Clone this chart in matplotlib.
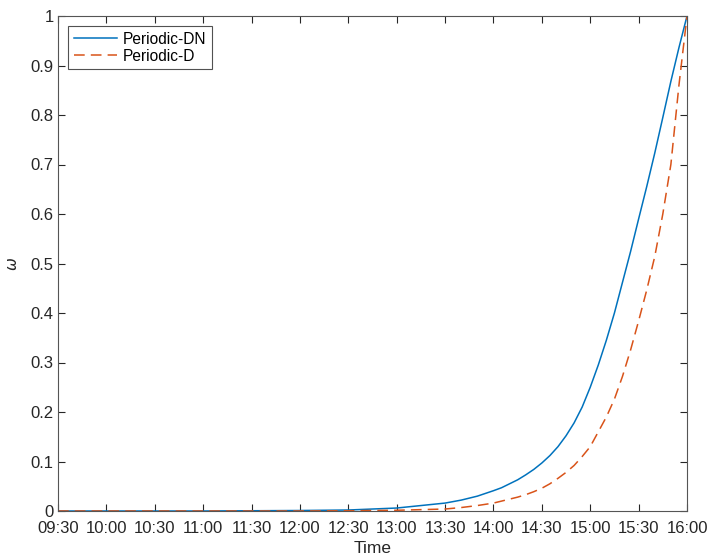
import matplotlib
matplotlib.use("Agg")
import matplotlib.pyplot as plt
import pandas as pd

plt.rcParams['font.family'] = ['Liberation Sans', 'DejaVu Sans']

times = ["09:30", "10:00", "10:30", "11:00", "11:30", "12:00", "12:30", "13:00",
         "13:30", "13:40", "13:50",
         "14:00", "14:05", "14:10", "14:15", "14:20", "14:25", "14:30", "14:35",
         "14:40", "14:45", "14:50", "14:55",
         "15:00", "15:05", "15:10", "15:15", "15:20", "15:25", "15:30", "15:35",
         "15:40", "15:45", "15:50", "15:55", "16:00"]
periodic_dn = [0.0, 0.0, 0.0, 0.0, 0.0005, 0.001, 0.002, 0.006,
               0.016, 0.022, 0.030,
               0.041, 0.047, 0.055, 0.063, 0.073, 0.084, 0.097, 0.112,
               0.130, 0.152, 0.178, 0.210,
               0.250, 0.295, 0.345, 0.400, 0.462, 0.524, 0.590, 0.655,
               0.723, 0.795, 0.868, 0.936, 1.0]
periodic_d = [0.0, 0.0, 0.0, 0.0, 0.0, 0.0, 0.0005, 0.0015,
              0.004, 0.007, 0.011,
              0.016, 0.020, 0.024, 0.028, 0.033, 0.039, 0.046, 0.055,
              0.066, 0.078, 0.092, 0.110,
              0.130, 0.160, 0.190, 0.226, 0.272, 0.325, 0.384, 0.446,
              0.514, 0.600, 0.700, 0.860, 1.0]
tick_labels = ["09:30", "10:00", "10:30", "11:00", "11:30", "12:00", "12:30",
               "13:00", "13:30", "14:00", "14:30", "15:00", "15:30", "16:00"]
y_ticks = [0, 0.1, 0.2, 0.3, 0.4, 0.5, 0.6, 0.7, 0.8, 0.9, 1]
y_tick_labels = ['0', '0.1', '0.2', '0.3', '0.4', '0.5', '0.6', '0.7', '0.8', '0.9', '1']

t = pd.to_datetime(["2020-01-01 " + s for s in times])
ticks = pd.to_datetime(["2020-01-01 " + s for s in tick_labels])

fig = plt.figure(figsize=(7.07, 5.6), dpi=100)
ax = fig.add_axes([58/707, 49/560, 629/707, 495/560])

ax.plot(t, periodic_dn, color='#0072BD', lw=1.1, label='Periodic-DN')
ax.plot(t, periodic_d, color='#D95319', lw=1.1, dashes=(7, 4), label='Periodic-D')

ax.set_xlim(ticks[0], ticks[-1])
ax.set_ylim(0, 1)
ax.set_xticks(ticks)
ax.set_xticklabels(tick_labels)
ax.set_yticks(y_ticks)
ax.set_yticklabels(y_tick_labels)

axc = '#262626'
for sp in ax.spines.values():
    sp.set_color('#555555')
    sp.set_linewidth(0.8)
ax.tick_params(direction='in', top=True, right=True, length=5, width=0.8,
               colors=axc, labelsize=12, pad=3)
ax.tick_params(axis='x', pad=7)
ax.set_xlabel('Time', fontsize=12.5, color=axc, labelpad=4)
ax.set_ylabel(r'$\omega$', fontsize=11, color=axc, labelpad=8)

leg = ax.legend(loc='upper left', fontsize=11.2, frameon=True, fancybox=False,
                edgecolor=axc, handlelength=2.8, handletextpad=0.35,
                borderaxespad=0.65, borderpad=0.35, labelspacing=0.15)
leg.get_frame().set_linewidth(0.8)

fig.savefig('out.png', dpi=100)
